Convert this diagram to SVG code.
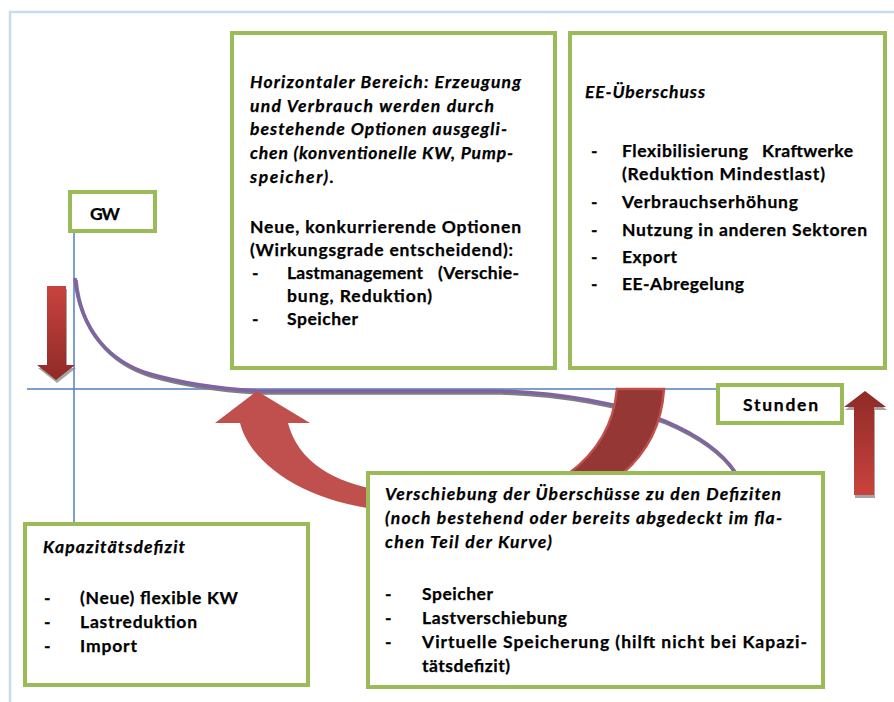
<svg xmlns="http://www.w3.org/2000/svg" width="894" height="702" viewBox="0 0 894 702">
<defs>
<style>
.box{fill:#ffffff;stroke:#9bbb59;stroke-width:4}
.t{font-family:Lato,"Liberation Sans",sans-serif;font-size:17.5px;font-weight:bold;fill:#000;stroke:#000;stroke-width:0.25}
.i{font-style:italic}
.axis{stroke:#4f81bd;stroke-width:1.5;fill:none}
</style>
<linearGradient id="gDown" x1="0" y1="0" x2="0" y2="1"><stop offset="0" stop-color="#c9433e"/><stop offset="1" stop-color="#8f2a27"/></linearGradient>
<linearGradient id="gUp" x1="0" y1="0" x2="0" y2="1"><stop offset="0" stop-color="#8f2a27"/><stop offset="1" stop-color="#c9433e"/></linearGradient>
</defs>
<rect width="894" height="702" fill="#ffffff"/>
<path d="M10,702 L10,12 L894,12" fill="none" stroke="#c9dcec" stroke-width="2.5"/>

<g id="connectors">
<line class="axis" x1="27" y1="389" x2="718" y2="389"/>
<line class="axis" x1="74" y1="231" x2="74" y2="524"/>
<path d="M75,278 C80,330 110,362 150,374 C185,384 220,389 260,391 L500,391 C560,393 620,403 665,421 C700,436 722,452 735,472" fill="none" stroke="#7f7f7f" stroke-width="3.5" transform="translate(1,2)"/>
<path d="M75,278 C80,330 110,362 150,374 C185,384 220,389 260,391 L500,391 C560,393 620,403 665,421 C700,436 722,452 735,472" fill="none" stroke="#8064a2" stroke-width="3.5"/>
<polygon points="47,286 66,286 66,365 75,365 56,380 37,365 47,365" fill="#7f7f7f" opacity="0.7" transform="translate(1,3)"/>
<polygon points="47,286 66,286 66,365 75,365 56,380 37,365 47,365" fill="url(#gDown)"/>
<polygon points="865,391 886,407 874,407 874,495 854,495 854,407 844,407" fill="#7f7f7f" opacity="0.7" transform="translate(1,3)"/>
<polygon points="865,391 886,407 874,407 874,495 854,495 854,407 844,407" fill="url(#gUp)"/>
<path d="M257,391 L310,423 L288,423 C298,462 335,483 380,490 L380,510 C300,500 250,462 240,423 L215,423 Z" fill="#c0504d"/>
<path d="M617,389 L664,389 C662,422 648,452 622,474 L568,474 C598,452 614,422 617,389 Z" fill="#953735" stroke="#c0504d" stroke-width="2.5"/>
</g>

<g id="gw">
<rect class="box" x="70" y="192" width="85" height="39"/>
<text class="t" x="90" y="220" textLength="30">GW</text>
</g>

<g id="stunden">
<rect class="box" x="718" y="385" width="124" height="38"/>
<text class="t" x="743" y="411" textLength="75">Stunden</text>
</g>

<g id="horizontal">
<rect class="box" x="232" y="33" width="323" height="335"/>
<text class="t i" x="250" y="88" textLength="271">Horizontaler Bereich: Erzeugung</text>
<text class="t i" x="250" y="111.5" textLength="244">und Verbrauch werden durch</text>
<text class="t i" x="250" y="135" textLength="257">bestehende Optionen ausgegli-</text>
<text class="t i" x="250" y="159" textLength="263">chen (konventionelle KW, Pump-</text>
<text class="t i" x="250" y="182.5" textLength="84">speicher).</text>
<text class="t" x="250" y="233" textLength="271">Neue, konkurrierende Optionen</text>
<text class="t" x="250" y="256" textLength="263">(Wirkungsgrade entscheidend):</text>
<text class="t" x="252" y="279">-</text>
<text class="t" x="287" y="279" textLength="136">Lastmanagement</text>
<text class="t" x="438" y="279" textLength="81">(Verschie-</text>
<text class="t" x="287" y="302" textLength="145">bung, Reduktion)</text>
<text class="t" x="252" y="325">-</text>
<text class="t" x="287" y="325" textLength="71">Speicher</text>
</g>

<g id="ee">
<rect class="box" x="570" y="33" width="315" height="335"/>
<text class="t i" x="585" y="98" textLength="120">EE-Überschuss</text>
<text class="t" x="591" y="157">-</text>
<text class="t" x="622" y="157" textLength="126">Flexibilisierung</text>
<text class="t" x="762" y="157" textLength="91">Kraftwerke</text>
<text class="t" x="622" y="180" textLength="203">(Reduktion Mindestlast)</text>
<text class="t" x="591" y="208">-</text>
<text class="t" x="622" y="208" textLength="176">Verbrauchserhöhung</text>
<text class="t" x="591" y="236">-</text>
<text class="t" x="622" y="236" textLength="245">Nutzung in anderen Sektoren</text>
<text class="t" x="591" y="263">-</text>
<text class="t" x="622" y="263" textLength="55">Export</text>
<text class="t" x="591" y="290">-</text>
<text class="t" x="622" y="290" textLength="122">EE-Abregelung</text>
</g>

<g id="kapazitaet">
<rect class="box" x="25" y="524" width="283" height="161"/>
<text class="t i" x="43" y="553" textLength="142">Kapazitätsdefizit</text>
<text class="t" x="44" y="604">-</text>
<text class="t" x="80" y="604" textLength="158">(Neue) flexible KW</text>
<text class="t" x="44" y="628">-</text>
<text class="t" x="80" y="628" textLength="117">Lastreduktion</text>
<text class="t" x="44" y="652">-</text>
<text class="t" x="80" y="652" textLength="57">Import</text>
</g>

<g id="verschiebung">
<rect class="box" x="368" y="473" width="455" height="214"/>
<text class="t i" x="385" y="500" textLength="396">Verschiebung der Überschüsse zu den Defiziten</text>
<text class="t i" x="385" y="524" textLength="397">(noch bestehend oder bereits abgedeckt im fla-</text>
<text class="t i" x="385" y="548" textLength="167">chen Teil der Kurve)</text>
<text class="t" x="385" y="600">-</text>
<text class="t" x="422" y="600" textLength="71">Speicher</text>
<text class="t" x="385" y="624">-</text>
<text class="t" x="422" y="624" textLength="145">Lastverschiebung</text>
<text class="t" x="385" y="648">-</text>
<text class="t" x="422" y="648" textLength="385">Virtuelle Speicherung (hilft nicht bei Kapazi-</text>
<text class="t" x="422" y="672" textLength="88">tätsdefizit)</text>
</g>
</svg>
